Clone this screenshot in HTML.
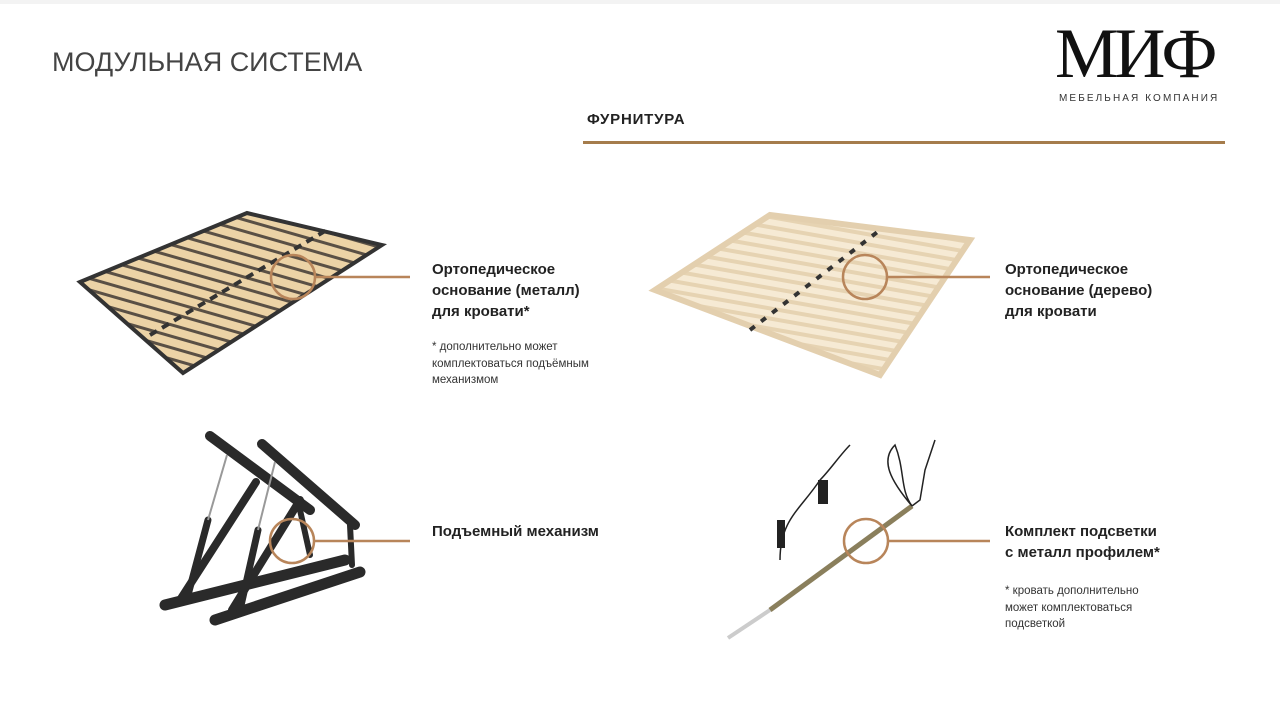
<!DOCTYPE html>
<html><head><meta charset="utf-8"><style>
body{margin:0;width:1280px;height:720px;background:#fff;position:relative;overflow:hidden;font-family:"Liberation Sans",sans-serif;color:#222}
.t{position:absolute;white-space:nowrap}
.lab{font-weight:bold;font-size:15px;line-height:21px;color:#222}
.note{font-size:11.5px;line-height:16.5px;color:#333}
</style></head><body>
<div style="position:absolute;left:0;top:0;width:1280px;height:4px;background:#f3f3f3"></div>
<div class="t" style="left:52px;top:47px;font-size:27px;color:#444;letter-spacing:0px">МОДУЛЬНАЯ СИСТЕМА</div>
<div class="t" style="left:1055px;top:16px;font-family:'Liberation Serif',serif;font-size:71px;line-height:76px;color:#111;letter-spacing:-4px">МИФ</div>
<div class="t" style="left:1059px;top:93px;font-size:10px;letter-spacing:2.1px;color:#333">МЕБЕЛЬНАЯ КОМПАНИЯ</div>
<div class="t" style="left:587px;top:111px;font-size:15px;font-weight:bold;letter-spacing:0.8px">ФУРНИТУРА</div>
<div style="position:absolute;left:583px;top:141px;width:642px;height:3px;background:#a57c4c"></div>

<svg width="1280" height="720" style="position:absolute;left:0;top:0">
<defs>
<pattern id="p1" width="10" height="11" patternUnits="userSpaceOnUse" patternTransform="rotate(16)">
<rect width="10" height="11" fill="#5a5045"/><rect y="2.5" width="10" height="8" fill="#ecd3a6"/></pattern>
<pattern id="p2" width="10" height="10" patternUnits="userSpaceOnUse" patternTransform="rotate(10)">
<rect width="10" height="10" fill="#e6d3b2"/><rect y="2" width="10" height="6" fill="#f6ead4"/></pattern>
</defs>
<polygon points="80,282 247,213 382,245 183,373" fill="url(#p1)" stroke="#333" stroke-width="4"/>
<line x1="150" y1="335" x2="330" y2="228" stroke="#333" stroke-width="4" stroke-dasharray="8 6"/>
<polygon points="655,290 770,215 970,240 880,375" fill="url(#p2)" stroke="#e3cfae" stroke-width="6"/>
<line x1="750" y1="330" x2="880" y2="230" stroke="#333" stroke-width="4" stroke-dasharray="6 8"/>
<g stroke="#2a2a2a" stroke-linecap="round" fill="none">
<line x1="210" y1="436" x2="310" y2="510" stroke-width="10"/>
<line x1="262" y1="444" x2="355" y2="525" stroke-width="10"/>
<line x1="165" y1="605" x2="345" y2="560" stroke-width="11"/>
<line x1="215" y1="620" x2="360" y2="572" stroke-width="11"/>
<line x1="180" y1="600" x2="256" y2="482" stroke-width="8"/>
<line x1="232" y1="610" x2="300" y2="500" stroke-width="8"/>
<line x1="300" y1="510" x2="310" y2="555" stroke-width="6"/>
<line x1="350" y1="525" x2="352" y2="565" stroke-width="6"/>
<line x1="188" y1="595" x2="208" y2="520" stroke-width="7"/>
<line x1="240" y1="610" x2="258" y2="530" stroke-width="7"/>
</g>
<line x1="208" y1="520" x2="227" y2="455" stroke="#999" stroke-width="2"/>
<line x1="258" y1="530" x2="275" y2="462" stroke="#999" stroke-width="2"/>
<line x1="728" y1="638" x2="770" y2="610" stroke="#ccc" stroke-width="4"/>
<line x1="770" y1="610" x2="912" y2="506" stroke="#8a7f5c" stroke-width="5"/>
<path d="M912,506 L920,500 925,470 935,440 M912,506 C890,480 880,460 895,445 C905,470 900,490 912,506" stroke="#222" stroke-width="1.5" fill="none"/>
<path d="M780,560 C780,520 800,510 820,480 C830,470 840,455 850,445" stroke="#222" stroke-width="1.5" fill="none"/>
<rect x="777" y="520" width="8" height="28" fill="#222"/><rect x="818" y="480" width="10" height="24" fill="#222"/>
<g fill="none" stroke="#b8855a" stroke-width="2.5">
<circle cx="293" cy="277" r="22"/><line x1="315" y1="277" x2="410" y2="277"/>
<circle cx="865" cy="277" r="22"/><line x1="887" y1="277" x2="990" y2="277"/>
<circle cx="292" cy="541" r="22"/><line x1="314" y1="541" x2="410" y2="541"/>
<circle cx="866" cy="541" r="22"/><line x1="888" y1="541" x2="990" y2="541"/>
</g>
</svg>

<div class="t lab" style="left:432px;top:259px">Ортопедическое<br>основание (металл)<br>для кровати*</div>
<div class="t note" style="left:432px;top:339px">* дополнительно может<br>комплектоваться подъёмным<br>механизмом</div>
<div class="t lab" style="left:1005px;top:259px">Ортопедическое<br>основание (дерево)<br>для кровати</div>
<div class="t lab" style="left:432px;top:521px">Подъемный механизм</div>
<div class="t lab" style="left:1005px;top:521px">Комплект подсветки<br>с металл профилем*</div>
<div class="t note" style="left:1005px;top:583px">* кровать дополнительно<br>может комплектоваться<br>подсветкой</div>
</body></html>
